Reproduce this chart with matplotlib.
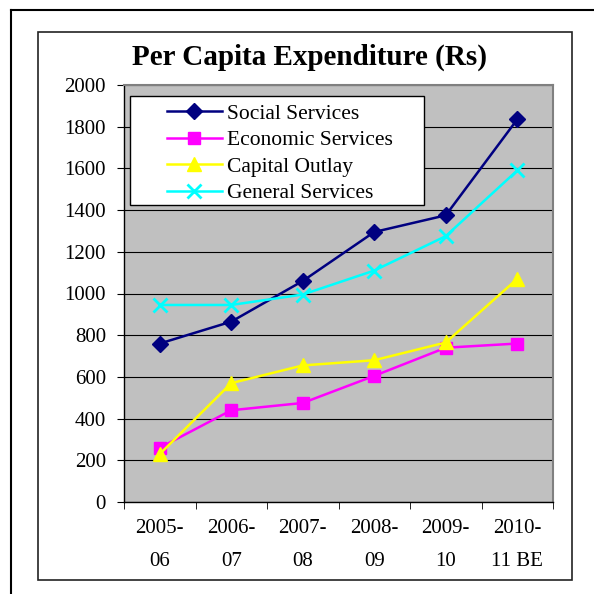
import numpy as np
import matplotlib
matplotlib.use('Agg')
import matplotlib.pyplot as plt
from matplotlib.patches import Rectangle
from matplotlib.lines import Line2D

plt.rcParams['font.family'] = ['Liberation Serif', 'DejaVu Serif']

# Datos
years = ['2005-\n06', '2006-\n07', '2007-\n08', '2008-\n09', '2009-\n10', '2010-\n11 BE']
social = [760, 865, 1060, 1295, 1375, 1835]
economic = [260, 440, 475, 605, 740, 760]
capital = [230, 570, 655, 680, 765, 1070]
general = [945, 945, 995, 1110, 1275, 1590]

fig = plt.figure(figsize=(5.94, 5.94), dpi=100)

# marcos exteriores
fig.add_artist(Line2D([11/594, 11/594], [0, 1 - 10/594], transform=fig.transFigure, color='black', lw=1.5))
fig.add_artist(Line2D([11/594, 593/594], [1 - 10/594, 1 - 10/594], transform=fig.transFigure, color='black', lw=1.5))
fig.add_artist(Rectangle((38/594, 14/594), 534/594, 548/594, transform=fig.transFigure,
                         fill=False, edgecolor='#222222', lw=1.2))

ax = fig.add_axes([124/594, 92/594, 429/594, 417/594])
ax.set_facecolor('#C0C0C0')
x = np.arange(len(years))

ax.plot(x, social, color='#000080', lw=1.8, marker='D', ms=8, label='Social Services')
ax.plot(x, economic, color='#FF00FF', lw=1.8, marker='s', ms=9, label='Economic Services')
ax.plot(x, capital, color='#FFFF00', lw=1.8, marker='^', ms=10, label='Capital Outlay')
ax.plot(x, general, color='#00FFFF', lw=1.8, marker='x', ms=10, mew=2, label='General Services')

ax.set_xlim(-0.5, 5.5)
ax.set_ylim(0, 2000)
ax.set_yticks(np.arange(0, 2001, 200))
ax.yaxis.grid(True, color='black', lw=0.8)
ax.set_axisbelow(True)

ax.set_xticks(x)
ax.set_xticklabels(years, fontsize=15, linespacing=2.05)
ax.set_xticks(np.arange(-0.5, 6, 1), minor=True)
ax.tick_params(axis='x', which='major', length=0, pad=12)
ax.tick_params(axis='x', which='minor', length=5, direction='out')
ax.tick_params(axis='y', labelsize=15, length=5, direction='out', pad=8)

for s in ['top', 'right']:
    ax.spines[s].set_color('#808080')
    ax.spines[s].set_linewidth(1.5)
ax.spines['left'].set_linewidth(1)
ax.spines['bottom'].set_linewidth(1)

fig.text(310/594, 1 - 57/594, 'Per Capita Expenditure (Rs)', ha='center', va='center',
         fontsize=21, fontweight='bold')

# caja de la leyenda (mas ancha que la de matplotlib)
ax.add_patch(Rectangle((0.014, 0.712), 0.685, 0.262, transform=ax.transAxes,
                       facecolor='white', edgecolor='black', lw=1, zorder=4))
leg = ax.legend(loc='upper left', bbox_to_anchor=(0.1, 0.955), fontsize=15.5, frameon=False,
                handlelength=2.55, handletextpad=0.25, borderpad=0, labelspacing=0.3,
                borderaxespad=0)
leg.set_zorder(5)

plt.savefig('out.png', dpi=100)
